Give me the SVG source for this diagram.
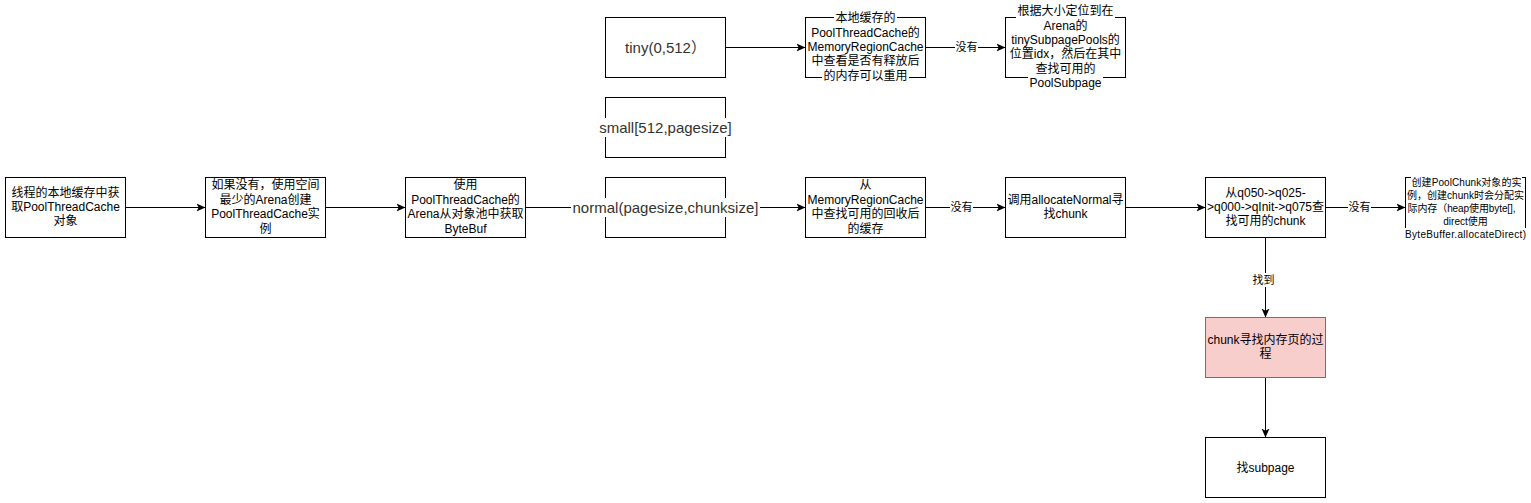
<svg xmlns="http://www.w3.org/2000/svg" width="1531" height="503" viewBox="0 0 1531 503">
<style>
.box{fill:#fff;stroke:#000;stroke-width:1}
.pink{fill:#f8cecc;stroke:#b85450;stroke-width:1}
.t{font-family:'Liberation Sans','Noto Sans CJK SC',sans-serif;font-size:12px;fill:#000;text-anchor:middle;dominant-baseline:central}
.s{font-size:10px}
.big{font-size:15px;fill:#333}
.el{font-size:11px}
.bg{fill:#fff;stroke:none}
.c{stroke:#000;stroke-width:1;fill:none;marker-end:url(#arr)}
</style>
<defs>
<marker id="arr" markerUnits="userSpaceOnUse" markerWidth="9" markerHeight="9" viewBox="0 0 9 9" refX="9" refY="4.5" orient="auto">
<path d="M0,0.5 L9,4.5 L0,8.5 L2.2,4.5 Z" fill="#000"/>
</marker>
</defs>
<rect width="1531" height="503" fill="#fff"/>
<g id="connectors">
<line class="c" x1="125.5" y1="207.5" x2="205.5" y2="207.5"/>
<line class="c" x1="325.5" y1="207.5" x2="405.5" y2="207.5"/>
<line class="c" x1="525.5" y1="207.5" x2="605.5" y2="207.5"/>
<line class="c" x1="725.5" y1="207.5" x2="805.5" y2="207.5"/>
<line class="c" x1="925.5" y1="207.5" x2="1005.5" y2="207.5"/>
<line class="c" x1="1125.5" y1="207.5" x2="1205.5" y2="207.5"/>
<line class="c" x1="1325.5" y1="207.5" x2="1405.5" y2="207.5"/>
<line class="c" x1="725.5" y1="47.5" x2="805.5" y2="47.5"/>
<line class="c" x1="925.5" y1="47.5" x2="1005.5" y2="47.5"/>
<line class="c" x1="1265.5" y1="237.5" x2="1265.5" y2="317.5"/>
<line class="c" x1="1265.5" y1="377.5" x2="1265.5" y2="437.5"/>
<rect class="bg" x="955" y="40" width="23" height="14"/>
<text class="t el" x="966.5" y="47">没有</text>
<rect class="bg" x="950" y="200" width="23" height="14"/>
<text class="t el" x="961.5" y="207">没有</text>
<rect class="bg" x="1348" y="200" width="23" height="14"/>
<text class="t el" x="1359.5" y="207">没有</text>
<rect class="bg" x="1252" y="273" width="23" height="14"/>
<text class="t el" x="1263.5" y="280">找到</text>
</g>
<g id="n-thread-cache">
<rect class="box" x="5.5" y="177.5" width="120" height="60"/>
<text class="t" x="65.5" y="192.6">线程的本地缓存中获</text>
<text class="t" x="65.5" y="207">取PoolThreadCache</text>
<text class="t" x="65.5" y="221.4">对象</text>
</g>
<g id="n-create-cache">
<rect class="box" x="205.5" y="177.5" width="120" height="60"/>
<text class="t" x="265.5" y="185.4">如果没有，使用空间</text>
<text class="t" x="265.5" y="199.8">最少的Arena创建</text>
<text class="t" x="265.5" y="214.2">PoolThreadCache实</text>
<text class="t" x="265.5" y="228.6">例</text>
</g>
<g id="n-arena-bytebuf">
<rect class="box" x="405.5" y="177.5" width="120" height="60"/>
<text class="t" x="465.5" y="185.4">使用</text>
<text class="t" x="465.5" y="199.8">PoolThreadCache的</text>
<text class="t" x="465.5" y="214.2">Arena从对象池中获取</text>
<text class="t" x="465.5" y="228.6">ByteBuf</text>
</g>
<g id="n-tiny">
<rect class="box" x="605.5" y="17.5" width="120" height="60"/>
<text class="t big" x="665.5" y="47">tiny(0,512）</text>
</g>
<g id="n-small">
<rect class="box" x="605.5" y="97.5" width="120" height="60"/>
<rect class="bg" x="598" y="118" width="135" height="19"/>
<text class="t big" x="665.5" y="127.5">small[512,pagesize]</text>
</g>
<g id="n-normal">
<rect class="box" x="605.5" y="177.5" width="120" height="60"/>
<rect class="bg" x="571" y="198" width="189" height="19"/>
<text class="t big" x="665.5" y="207.5">normal(pagesize,chunksize]</text>
</g>
<g id="n-local-cache">
<rect class="box" x="805.5" y="17.5" width="120" height="60"/>
<rect class="bg" x="834" y="11" width="63" height="14"/>
<text class="t" x="865.5" y="18.2">本地缓存的</text>
<text class="t" x="865.5" y="32.6">PoolThreadCache的</text>
<text class="t" x="865.5" y="47">MemoryRegionCache</text>
<text class="t" x="865.5" y="61.4">中查看是否有释放后</text>
<rect class="bg" x="822" y="69" width="87" height="14"/>
<text class="t" x="865.5" y="75.8">的内存可以重用</text>
</g>
<g id="n-tiny-subpage">
<rect class="box" x="1005.5" y="17.5" width="120" height="60"/>
<rect class="bg" x="1016" y="4" width="99" height="14.5"/>
<text class="t" x="1065.5" y="11.2">根据大小定位到在</text>
<text class="t" x="1065.5" y="25.6">Arena的</text>
<text class="t" x="1065.5" y="40">tinySubpagePools的</text>
<text class="t" x="1065.5" y="54.4">位置idx，然后在其中</text>
<text class="t" x="1065.5" y="68.8">查找可用的</text>
<rect class="bg" x="1028" y="76" width="75" height="14.5"/>
<text class="t" x="1065.5" y="83.2">PoolSubpage</text>
</g>
<g id="n-mrc">
<rect class="box" x="805.5" y="177.5" width="120" height="60"/>
<text class="t" x="865.5" y="185.4">从</text>
<text class="t" x="865.5" y="199.8">MemoryRegionCache</text>
<text class="t" x="865.5" y="214.2">中查找可用的回收后</text>
<text class="t" x="865.5" y="228.6">的缓存</text>
</g>
<g id="n-allocate-normal">
<rect class="box" x="1005.5" y="177.5" width="120" height="60"/>
<text class="t" x="1065.5" y="199.8">调用allocateNormal寻</text>
<text class="t" x="1065.5" y="214.2">找chunk</text>
</g>
<g id="n-chunk-list">
<rect class="box" x="1205.5" y="177.5" width="120" height="60"/>
<text class="t" x="1265.5" y="192.6">从q050-&gt;q025-</text>
<text class="t" x="1265.5" y="207">&gt;q000-&gt;qInit-&gt;q075查</text>
<text class="t" x="1265.5" y="221.4">找可用的chunk</text>
</g>
<g id="n-new-chunk">
<rect class="box" x="1405.5" y="177.5" width="120" height="60"/>
<rect class="bg" x="1411" y="176" width="111" height="12"/>
<text class="t s" x="1466.5" y="182" textLength="110" lengthAdjust="spacing">创建PoolChunk对象的实</text>
<text class="t s" x="1465.5" y="195" textLength="117" lengthAdjust="spacing">例，创建chunk时会分配实</text>
<text class="t s" x="1461.5" y="208" textLength="108" lengthAdjust="spacing">际内存（heap使用byte[],</text>
<text class="t s" x="1465.5" y="221">direct使用</text>
<rect class="bg" x="1403" y="228" width="125" height="12"/>
<text class="t s" x="1465.5" y="234" textLength="121" lengthAdjust="spacing">ByteBuffer.allocateDirect)</text>
</g>
<g id="n-chunk-page">
<rect class="pink" x="1205.5" y="317.5" width="120" height="60"/>
<text class="t" x="1265.5" y="339.8">chunk寻找内存页的过</text>
<text class="t" x="1265.5" y="354.2">程</text>
</g>
<g id="n-subpage">
<rect class="box" x="1205.5" y="437.5" width="120" height="60"/>
<text class="t" x="1265.5" y="467.5">找subpage</text>
</g>
</svg>
